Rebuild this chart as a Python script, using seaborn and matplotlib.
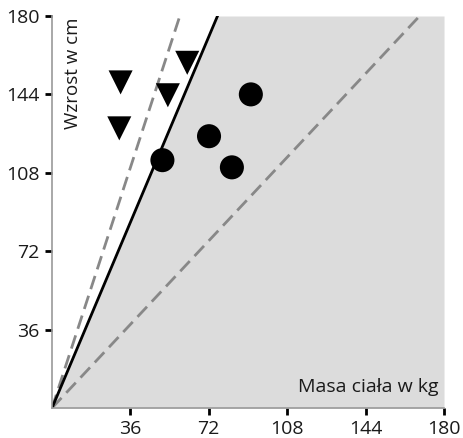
import numpy as np
import pandas as pd
import seaborn as sns
import matplotlib.pyplot as plt

# points
tri_x = [31.5, 30.9, 53.2, 62.1]
tri_y = [149.5, 128.4, 143.6, 158.5]
circ_x = [50.7, 72.1, 82.6, 91.3]
circ_y = [113.8, 124.8, 110.5, 144.0]

# slopes of the lines through the origin
solid_slope = 180 / 76.0
dash_steep = 180 / 58.7
dash_flat = 180 / 168.8

ticks = [36, 72, 108, 144, 180]

sns.set_style('white')
plt.rcParams['font.family'] = ['Open Sans', 'DejaVu Sans']

fig = plt.figure(figsize=(4.63, 4.38), dpi=100)
ax = fig.add_axes([0.1123, 0.0685, 0.8467, 0.895])

xs = np.linspace(0, 180, 400)
ax.fill_between(xs, 0, np.minimum(solid_slope * xs, 180), color='#dcdcdc', lw=0, zorder=0)

ax.plot(xs, dash_steep * xs, color='#888888', lw=2, ls=(0, (5, 2.5)), zorder=1)
ax.plot(xs, dash_flat * xs, color='#888888', lw=2, ls=(0, (5, 2.5)), zorder=1)
ax.plot(xs, solid_slope * xs, color='black', lw=2, zorder=2)

df = pd.DataFrame({
    'x': tri_x + circ_x,
    'y': tri_y + circ_y,
    'kind': ['tri'] * len(tri_x) + ['circ'] * len(circ_x),
})
sns.scatterplot(data=df, x='x', y='y', style='kind', markers={'tri': 'v', 'circ': 'o'},
                color='black', s=300, edgecolor='none', legend=False, ax=ax, zorder=3)

ax.set_xlim(0, 180)
ax.set_ylim(0, 180)
ax.set_xticks(ticks)
ax.set_yticks(ticks)
ax.set_xlabel('')
ax.set_ylabel('')
ax.tick_params(axis='both', bottom=True, left=True, length=5, width=2, color='black',
               labelsize=14, labelcolor='#1a1a1a', pad=4)
for s in ['top', 'right']:
    ax.spines[s].set_visible(False)
for s in ['left', 'bottom']:
    ax.spines[s].set_color('#999999')
    ax.spines[s].set_linewidth(1.2)

ax.text(0.03, 0.995, 'Wzrost w cm', rotation=90, ha='left', va='top', fontsize=13.5,
        color='#1a1a1a', transform=ax.transAxes)
ax.text(0.985, 0.03, 'Masa ciała w kg', ha='right', va='bottom', fontsize=14,
        color='#1a1a1a', transform=ax.transAxes)

fig.savefig('out.png', dpi=100)
